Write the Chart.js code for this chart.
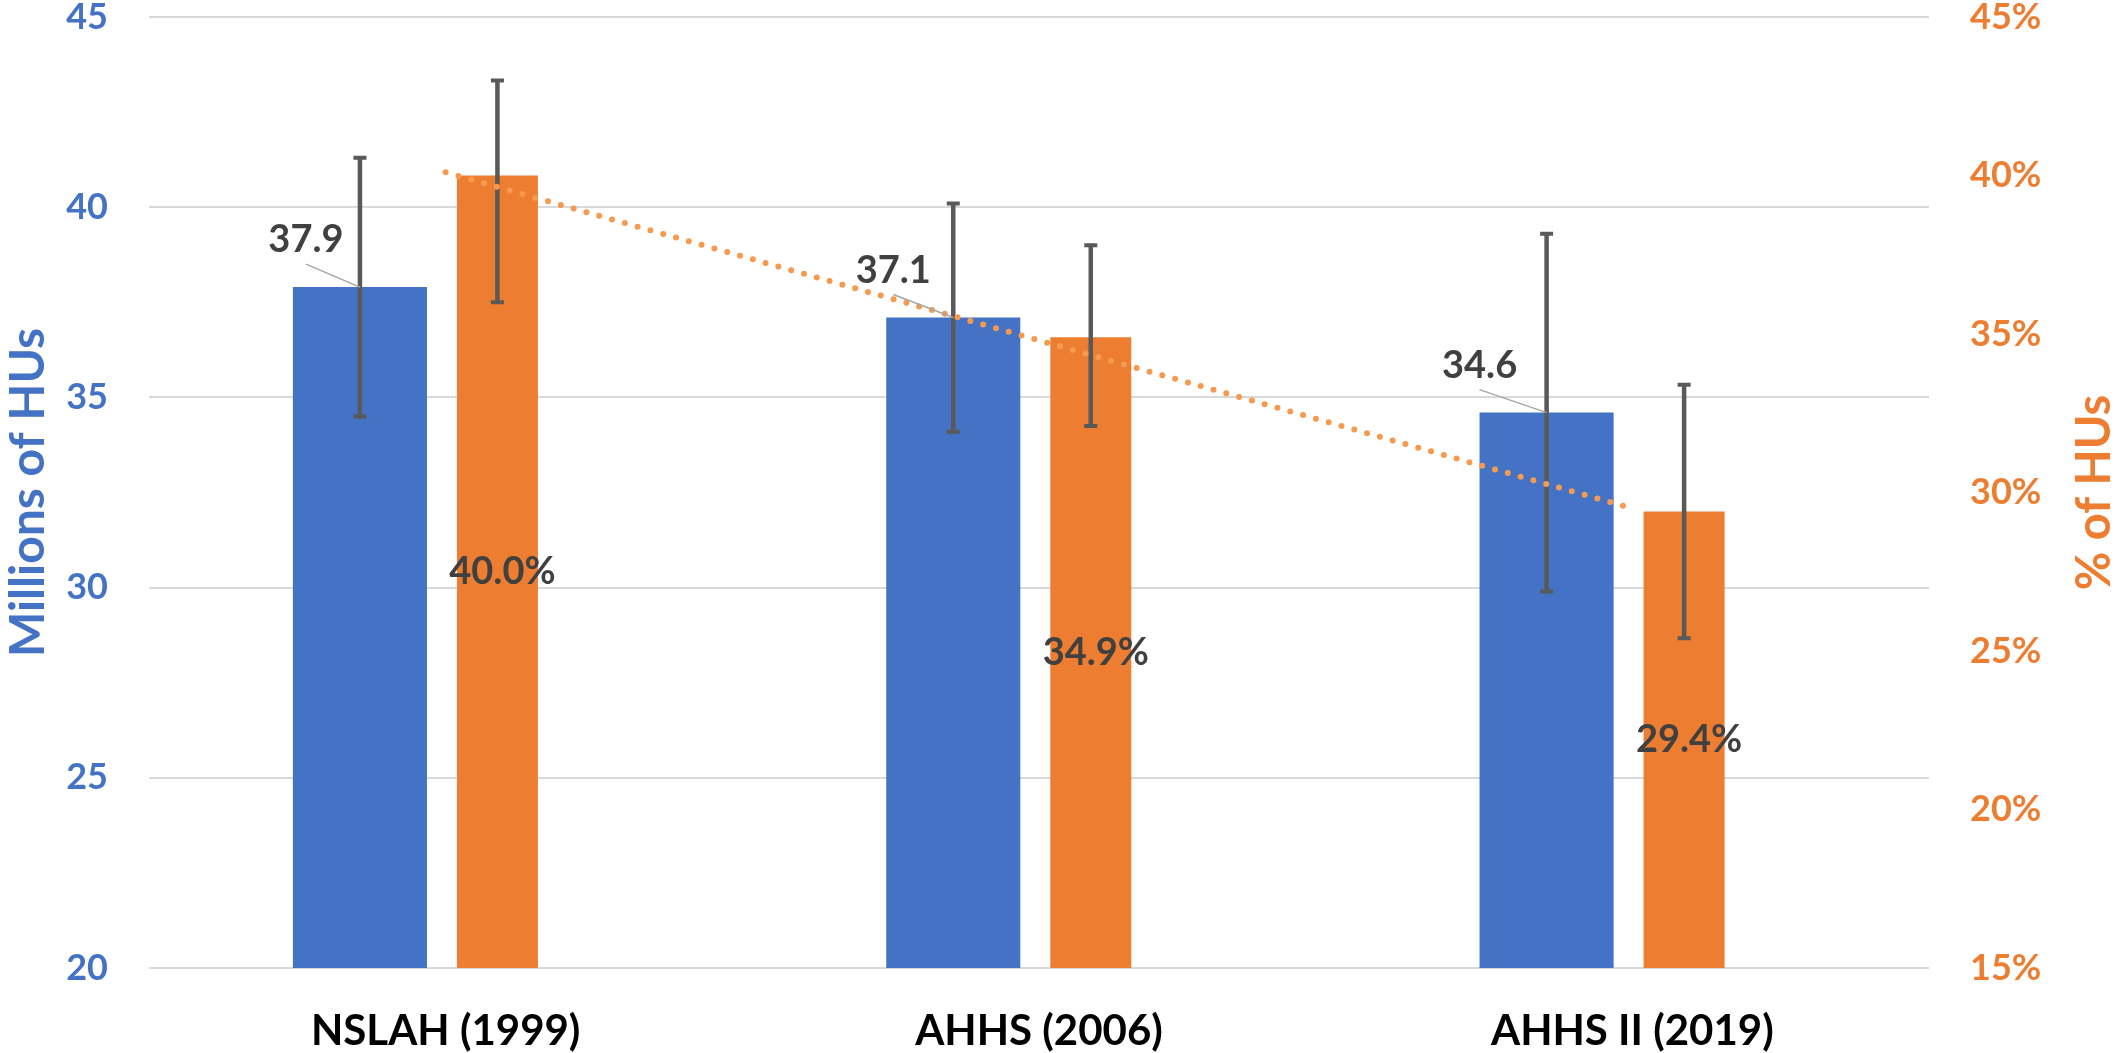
<!DOCTYPE html>
<html>
<head>
<meta charset="utf-8">
<script src="https://cdn.jsdelivr.net/npm/chart.js@4.4.1/dist/chart.umd.min.js"></script>
<style>
  html, body { margin: 0; padding: 0; background: #fff; }
</style>
</head>
<body>
<canvas id="chart" width="2121" height="1053"></canvas>
<script>
// data
const categories = ['NSLAH (1999)', 'AHHS (2006)', 'AHHS II (2019)'];
const husMillions = [37.9, 37.1, 34.6];
const husErr = [3.4, 3.0, 4.7];
const husPct = [40.0, 34.9, 29.4];
const pctErrUp = [3.0, 2.9, 4.0];
const pctErrDown = [4.0, 2.8, 4.0];
const pctTrend = [40.1, 34.8, 29.5];
const leftTicks = [20, 25, 30, 35, 40, 45];
const rightTicks = [15, 20, 25, 30, 35, 40, 45];

const BLUE = '#4472C4';
const ORANGE = '#ED7D31';
const FONT = 'Lato';

// nudges for the blue value labels (they sit up-left of the bar, with a leader line)
const blueLabelDx = [-54, -60, -67];
const blueLabelDy = -47;

const extras = {
  id: 'extras',
  afterDatasetDraw(chart, args) {
    const meta = args.meta;
    if (meta.type !== 'bar') return;
    const ds = chart.data.datasets[args.index];
    const yScale = chart.scales[meta.yAxisID];
    const ctx = chart.ctx;
    ctx.save();
    ctx.strokeStyle = '#595959';
    ctx.lineCap = 'butt';
    meta.data.forEach((bar, i) => {
      const v = ds.data[i];
      const hi = yScale.getPixelForValue(v + ds.errUp[i]);
      const lo = yScale.getPixelForValue(v - ds.errDown[i]);
      ctx.lineWidth = 4.5;
      ctx.beginPath();
      ctx.moveTo(bar.x, hi);
      ctx.lineTo(bar.x, lo);
      ctx.stroke();
      ctx.lineWidth = 4;
      ctx.beginPath();
      ctx.moveTo(bar.x - 6.5, hi); ctx.lineTo(bar.x + 6.5, hi);
      ctx.moveTo(bar.x - 6.5, lo); ctx.lineTo(bar.x + 6.5, lo);
      ctx.stroke();
    });
    ctx.restore();
  },
  afterDatasetsDraw(chart) {
    const ctx = chart.ctx;
    const area = chart.chartArea;
    ctx.save();
    ctx.font = `bold 38px ${FONT}`;
    ctx.fillStyle = '#404040';
    ctx.textAlign = 'center';
    ctx.textBaseline = 'middle';

    chart.getDatasetMeta(0).data.forEach((bar, i) => {
      const lx = bar.x + blueLabelDx[i];
      const ly = bar.y + blueLabelDy;
      ctx.strokeStyle = '#A6A6A6';
      ctx.lineWidth = 1.5;
      ctx.beginPath();
      ctx.moveTo(lx, ly + 24);
      ctx.lineTo(bar.x, bar.y);
      ctx.stroke();
      ctx.fillText(husMillions[i].toFixed(1), lx, ly);
    });

    chart.getDatasetMeta(1).data.forEach((bar, i) => {
      const bottom = Math.min(bar.base, area.bottom);
      ctx.fillText(husPct[i].toFixed(1) + '%', bar.x + 5, (bar.y + bottom) / 2);
    });

    // right axis title, reading bottom to top
    ctx.translate(2095, (area.top + area.bottom) / 2);
    ctx.rotate(-Math.PI / 2);
    ctx.font = `bold 47px ${FONT}`;
    ctx.fillStyle = ORANGE;
    ctx.fillText('% of HUs', 0, 0);
    ctx.restore();
  }
};

function build() {
  new Chart(document.getElementById('chart'), {
    type: 'bar',
    data: {
      labels: categories,
      datasets: [
        {
          label: 'Millions of HUs',
          data: husMillions,
          errUp: husErr,
          errDown: husErr,
          backgroundColor: BLUE,
          yAxisID: 'y',
          categoryPercentage: 0.578,
          barPercentage: 0.782,
          order: 1
        },
        {
          label: '% of HUs',
          data: husPct,
          errUp: pctErrUp,
          errDown: pctErrDown,
          backgroundColor: ORANGE,
          yAxisID: 'y2',
          categoryPercentage: 0.349,
          barPercentage: 0.782,
          order: 1
        },
        {
          type: 'line',
          label: 'Trend',
          data: pctTrend,
          yAxisID: 'y2',
          borderColor: '#F59A4E',
          borderWidth: 6,
          borderDash: [0, 13.3],
          borderCapStyle: 'round',
          pointRadius: 0,
          fill: false,
          order: 0
        }
      ]
    },
    options: {
      responsive: false,
      animation: false,
      devicePixelRatio: 1,
      layout: { padding: 0 },
      plugins: {
        legend: { display: false },
        tooltip: { enabled: false }
      },
      scales: {
        x: {
          grid: { display: false },
          border: { display: false },
          ticks: {
            color: '#000',
            padding: 30,
            font: { family: FONT, size: 42, weight: 'bold' }
          },
          afterFit(s) { s.height = 85; s.paddingLeft = 0; s.paddingRight = 0; }
        },
        y: {
          position: 'left',
          min: leftTicks[0],
          max: leftTicks[leftTicks.length - 1],
          afterBuildTicks(s) { s.ticks = leftTicks.map(v => ({ value: v })); },
          grid: { color: '#D9D9D9', lineWidth: 2, drawTicks: false },
          border: { display: false },
          ticks: {
            color: BLUE,
            padding: 41,
            font: { family: FONT, size: 36, weight: 'bold' }
          },
          title: {
            display: true,
            text: 'Millions of HUs',
            color: BLUE,
            padding: 0,
            font: { family: FONT, size: 48, weight: 'bold' }
          },
          afterFit(s) { s.width = 149; s.paddingTop = 17; s.paddingBottom = 0; }
        },
        y2: {
          position: 'right',
          min: rightTicks[0],
          max: rightTicks[rightTicks.length - 1],
          afterBuildTicks(s) { s.ticks = rightTicks.map(v => ({ value: v })); },
          grid: { display: false, drawTicks: false },
          border: { display: false },
          ticks: {
            color: ORANGE,
            padding: 41,
            callback: v => v + '%',
            font: { family: FONT, size: 36, weight: 'bold' }
          },
          afterFit(s) { s.width = 192; s.paddingTop = 17; s.paddingBottom = 0; }
        }
      }
    },
    plugins: [extras]
  });
}

Promise.all([
  document.fonts.load(`bold 36px ${FONT}`),
  document.fonts.load(`bold 48px ${FONT}`)
]).then(build, build);
</script>
</body>
</html>
